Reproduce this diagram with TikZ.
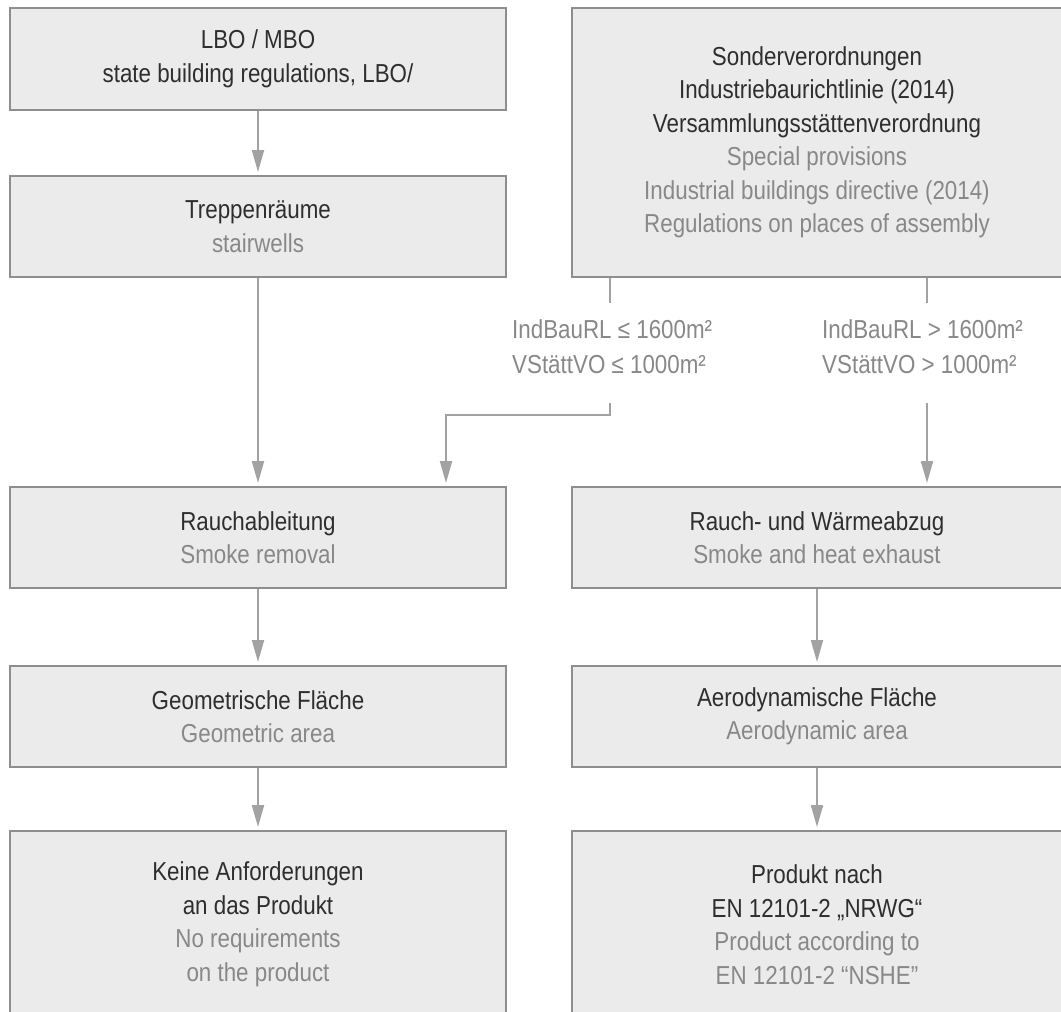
\documentclass[tikz,border=0pt]{standalone}
\usepackage{fontspec}
\setmainfont{Liberation Sans}[FakeStretch=0.86]
\usetikzlibrary{arrows.meta}
\definecolor{boxfill}{HTML}{EBEBEB}
\definecolor{boxline}{HTML}{8E8E8E}
\definecolor{arrowc}{HTML}{A2A2A2}
\definecolor{darktxt}{HTML}{2E2E2E}
\definecolor{lighttxt}{HTML}{888888}
\tikzset{
  box/.style={draw=boxline, fill=boxfill, line width=2pt, minimum width=496pt,
    text=darktxt, align=center, font=\fontsize{26}{33.5}\selectfont, inner sep=0pt},
  rbox/.style={box, minimum width=490pt},
  conn/.style={draw=arrowc, line width=2pt},
  arr/.style={conn, -{Triangle[length=22pt,width=12pt]}, shorten >=3pt},
  lbl/.style={text=lighttxt, align=left, anchor=west, inner sep=0pt,
    font=\fontsize{26}{35}\selectfont}
}
\newcommand{\eng}[1]{\textcolor{lighttxt}{#1}}
\begin{document}
\begin{tikzpicture}[x=1pt,y=-1pt]
\useasboundingbox (0,0) rectangle (1061,1012);
\fill[white] (0,0) rectangle (1061,1012);
\clip (0,0) rectangle (1061,1012);
% left column
\node[box, minimum height=102pt] (lbo) at (258,59) {LBO / MBO\\state building regulations, LBO/};
\node[box, minimum height=101pt] (trep) at (258,226.5) {Treppenräume\\\eng{stairwells}};
\node[box, minimum height=101pt] (rauch) at (258,537.5) {Rauchableitung\\\eng{Smoke removal}};
\node[box, minimum height=101pt] (geo) at (258,716.5) {Geometrische Fläche\\\eng{Geometric area}};
\node[box, minimum height=187pt] (keine) at (258,924.5) {Keine Anforderungen\\an das Produkt\\\eng{No requirements}\\\eng{on the product}};
% right column
\node[rbox, minimum height=269pt] (sonder) at (817,142.5) {Sonderverordnungen\\Industriebaurichtlinie (2014)\\Versammlungsstättenverordnung\\\eng{Special provisions}\\\eng{Industrial buildings directive (2014)}\\\eng{Regulations on places of assembly}};
\node[rbox, minimum height=101pt] (rwa) at (817,537.5) {Rauch- und Wärmeabzug\\\eng{Smoke and heat exhaust}};
\node[rbox, minimum height=101pt] (aero) at (817,716.5) {Aerodynamische Fläche\\\eng{Aerodynamic area}};
\node[rbox, minimum height=187pt] (prod) at (817,924.5) {Produkt nach\\EN 12101-2 „NRWG“\\\eng{Product according to}\\\eng{EN 12101-2 “NSHE”}};
% condition labels
\node[lbl] (cleft) at (512,347) {IndBauRL ≤ 1600m²\\VStättVO ≤ 1000m²};
\node[lbl] (cright) at (822,347) {IndBauRL > 1600m²\\VStättVO > 1000m²};
% helper coordinates
\coordinate (lt) at (610,303);
\coordinate (lb) at (610,403);
\coordinate (lc) at (610,415);
\coordinate (ld) at (446,415);
\coordinate (rt) at (927,303);
\coordinate (rb) at (927,403);
% connectors
\draw[arr] (lbo.south) -- (trep.north);
\draw[arr] (trep.south) -- (rauch.north);
\draw[conn] (sonder.south -| lt) -- (lt);
\draw[conn] (sonder.south -| rt) -- (rt);
\draw[arr] (lb) -- (lc) -- (ld) -- (rauch.north -| ld);
\draw[arr] (rb) -- (rwa.north -| rb);
\draw[arr] (rauch.south) -- (geo.north);
\draw[arr] (geo.south) -- (keine.north);
\draw[arr] (rwa.south) -- (aero.north);
\draw[arr] (aero.south) -- (prod.north);
\end{tikzpicture}
\end{document}
